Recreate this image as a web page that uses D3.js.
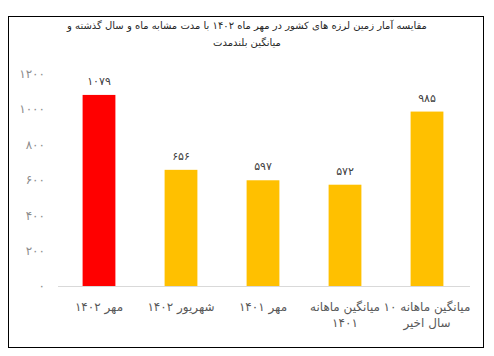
<!DOCTYPE html>
<html><head><meta charset="utf-8">
<script src="https://cdn.jsdelivr.net/npm/d3@7"></script>
<style>body{margin:0;background:#fff}svg{display:block}text{font-family:"DejaVu Sans",sans-serif}</style>
</head><body>
<script>
const titleLines = ["مقایسه آمار زمین لرزه های کشور در مهر ماه ۱۴۰۲ با مدت مشابه ماه و سال گذشته و", "میانگین بلندمدت"];
const categories = ["مهر ۱۴۰۲", "شهریور ۱۴۰۲", "مهر ۱۴۰۱", "میانگین ماهانه ۱۴۰۱", "میانگین ماهانه ۱۰ سال اخیر"];
const categoryLines = [["مهر ۱۴۰۲"], ["شهریور ۱۴۰۲"], ["مهر ۱۴۰۱"], ["میانگین ماهانه", "۱۴۰۱"], ["میانگین ماهانه ۱۰", "سال اخیر"]];
const values = [1079, 656, 597, 572, 985];
const barColors = ["#FF0000", "#FFC000", "#FFC000", "#FFC000", "#FFC000"];
const yTicks = [0, 200, 400, 600, 800, 1000, 1200];

const fa = n => String(n).replace(/\d/g, d => "۰۱۲۳۴۵۶۷۸۹"[d]);
const W = 494, H = 356;
const svg = d3.select("body").append("svg").attr("width", W).attr("height", H);
svg.append("rect").attr("x", 8.5).attr("y", 16.5).attr("width", 475).attr("height", 331)
  .attr("fill", "#fff").attr("stroke", "#000").attr("stroke-width", 1);

svg.append("g").selectAll("text").data(titleLines).join("text")
  .attr("x", 247).attr("y", (d, i) => 29 + i * 17).attr("text-anchor", "middle")
  .attr("direction", "rtl").attr("font-size", 10).attr("fill", "#262626").text(d => d);

const x = d3.scaleBand().domain(categories).range([58, 468]).paddingInner(0.6).paddingOuter(0.3);
const y = d3.scaleLinear().domain([0, 1200]).range([286, 73.5]);

const yAxis = d3.axisLeft(y).tickValues(yTicks).tickSize(0).tickPadding(0).tickFormat(fa);
const gy = svg.append("g").attr("transform", "translate(45,0)").call(yAxis);
gy.select(".domain").remove();
gy.selectAll("text").attr("font-size", 12).attr("fill", "#8c8c8c").attr("font-family", "DejaVu Sans");

svg.append("g").selectAll("rect").data(values).join("rect")
  .attr("x", (d, i) => x(categories[i])).attr("width", x.bandwidth())
  .attr("y", d => y(d)).attr("height", d => y(0) - y(d)).attr("fill", (d, i) => barColors[i]);

const xAxis = d3.axisBottom(x).tickSize(0).tickFormat("");
const gx = svg.append("g").attr("transform", "translate(0,286)").call(xAxis);
gx.select(".domain").attr("stroke", "#d9d9d9").attr("d", "M58,0.5H470");

svg.append("g").selectAll("text").data(values).join("text")
  .attr("x", (d, i) => x(categories[i]) + x.bandwidth() / 2).attr("y", d => y(d) - 10)
  .attr("text-anchor", "middle").attr("font-size", 11).attr("fill", "#404040").text(fa);

const cl = svg.append("g").selectAll("text").data(categoryLines).join("text")
  .attr("text-anchor", "middle").attr("direction", "rtl").attr("font-size", 12).attr("fill", "#595959");
cl.selectAll("tspan").data((d, i) => d.map(t => ({t, i}))).join("tspan")
  .attr("x", d => x(categories[d.i]) + x.bandwidth() / 2)
  .attr("y", (d, j) => 311 + j * 16).text(d => d.t);
</script>
</body></html>
